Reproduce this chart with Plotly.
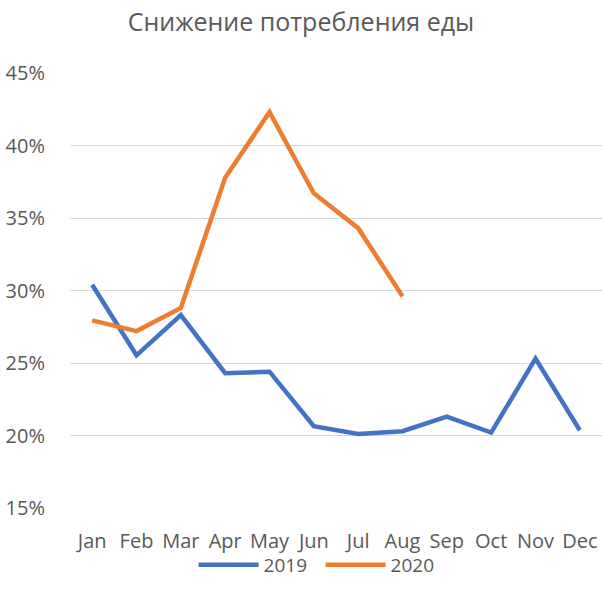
import plotly.graph_objects as go

months = ["Jan", "Feb", "Mar", "Apr", "May", "Jun", "Jul", "Aug", "Sep", "Oct", "Nov", "Dec"]
values_2019 = [0.304, 0.2553, 0.283, 0.243, 0.244, 0.2064, 0.201, 0.203, 0.213, 0.202, 0.253, 0.2036]
values_2020 = [0.2794, 0.272, 0.288, 0.3778, 0.423, 0.367, 0.343, 0.296]
title_text = "Снижение потребления еды"

font_family = "'Open Sans', sans-serif"
text_color = "#595959"

fig = go.Figure()
fig.add_trace(go.Scatter(x=months, y=values_2019, mode="lines", name="2019",
                         line=dict(color="#4472C4", width=4.5)))
fig.add_trace(go.Scatter(x=months[:len(values_2020)], y=values_2020, mode="lines", name="2020",
                         line=dict(color="#ED7D31", width=4.5)))

fig.update_layout(
    width=602, height=601,
    margin=dict(l=70, r=0, t=73, b=93),
    paper_bgcolor="white", plot_bgcolor="white",
    font=dict(family=font_family, color=text_color, size=19),
    title=dict(text=title_text, x=0.5, xanchor="center", y=0.963, yanchor="middle",
               font=dict(size=25, color=text_color, family=font_family)),
    showlegend=True,
    legend=dict(orientation="h", x=0.471, xanchor="center", y=-0.131, yanchor="middle",
                bgcolor="rgba(0,0,0,0)", entrywidth=52, entrywidthmode="pixels",
                font=dict(size=19, color=text_color), itemwidth=60),
)
fig.update_xaxes(type="category", categoryorder="array", categoryarray=months,
                 range=[-0.5, 11.5], showgrid=False, showline=False, ticks="",
                 automargin=False,
                 tickfont=dict(size=20, color=text_color), ticklabelstandoff=19)
fig.update_yaxes(range=[0.15, 0.45], dtick=0.05, tickformat=".0%", showgrid=True,
                 automargin=False,
                 gridcolor="#D9D9D9", gridwidth=1, zeroline=False, showline=False,
                 tickfont=dict(size=20, color=text_color), ticklabelstandoff=24)

fig.write_html("out.html", config={"displayModeBar": False},
               post_script="document.body.style.margin='0';")
